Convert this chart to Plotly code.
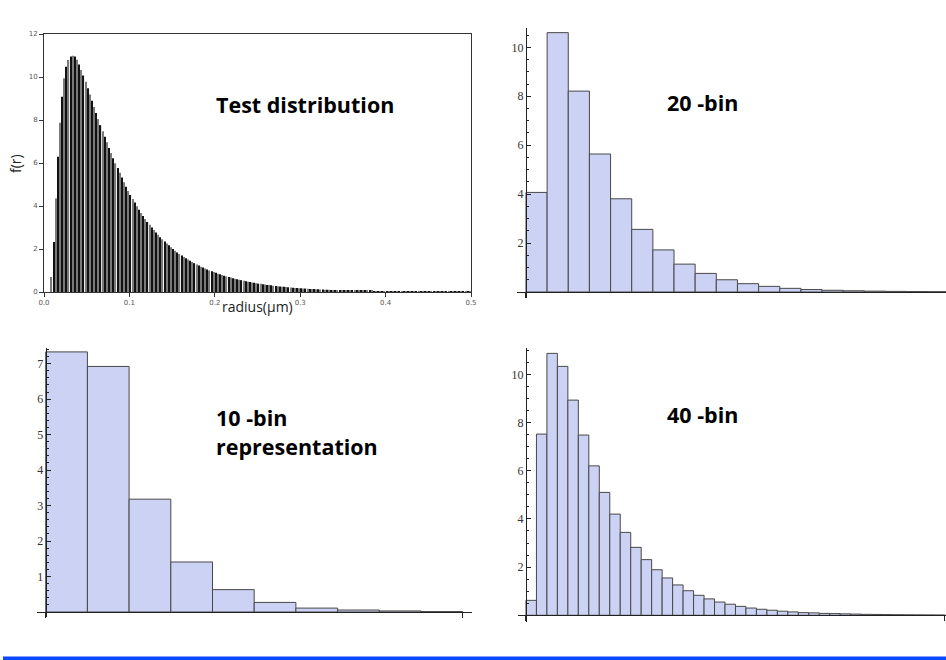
import plotly.graph_objects as go

W, H = 946, 660
R_MAX = 0.5

# ---- data ----
test_dist = [
    0, 0, 0,
    0.70, 2.33, 4.35, 6.29, 7.87, 9.08, 9.94,
    10.48, 10.79, 10.95, 10.99, 10.95, 10.80, 10.58, 10.33, 10.07, 9.78,
    9.48, 9.19, 8.90, 8.61, 8.32, 8.04, 7.76, 7.48, 7.22, 6.96,
    6.70, 6.46, 6.22, 5.99, 5.77, 5.55, 5.33, 5.11, 4.90, 4.70,
    4.51, 4.33, 4.16, 3.99, 3.83, 3.68, 3.53, 3.39, 3.26, 3.13,
    3.00, 2.88, 2.77, 2.66, 2.55, 2.45, 2.35, 2.26, 2.17, 2.08,
    2.00, 1.92, 1.84, 1.77, 1.70, 1.63, 1.57, 1.51, 1.45, 1.39,
    1.34, 1.28, 1.23, 1.18, 1.14, 1.09, 1.05, 1.00, 0.96, 0.93,
    0.89, 0.85, 0.82, 0.79, 0.76, 0.73, 0.70, 0.67, 0.64, 0.62,
    0.59, 0.57, 0.55, 0.52, 0.50, 0.48, 0.46, 0.44, 0.43, 0.41,
    0.39, 0.38, 0.36, 0.35, 0.33, 0.32, 0.31, 0.29, 0.28, 0.27,
    0.26, 0.25, 0.24, 0.23, 0.22, 0.21, 0.20, 0.19, 0.185, 0.18,
    0.17, 0.165, 0.16, 0.15, 0.145, 0.14, 0.135, 0.13, 0.125, 0.12,
    0.115, 0.11, 0.105, 0.10, 0.097, 0.094, 0.09, 0.087, 0.084, 0.081,
    0.078, 0.075, 0.072, 0.07, 0.067, 0.065, 0.062, 0.06, 0.058, 0.056,
    0.054, 0.052, 0.05, 0.048, 0.046, 0.045, 0.043, 0.042, 0.04, 0.039,
    0.037, 0.036, 0.035, 0.034, 0.033, 0.031, 0.03, 0.029, 0.028, 0.027,
    0.026, 0.025, 0.024, 0.023, 0.022, 0.021, 0.02, 0.02, 0.019, 0.018,
    0.018, 0.017, 0.016, 0.016, 0.015, 0.015, 0.014, 0.014, 0.013, 0.013,
    0.012, 0.012, 0.011, 0.011, 0.01, 0.01, 0.01, 0.009, 0.009, 0.009,
]

bins10 = [7.33, 6.92, 3.18, 1.41, 0.63, 0.27, 0.11, 0.056, 0.03, 0.012]

bins20 = [4.07, 10.60, 8.21, 5.64, 3.81, 2.56, 1.72, 1.14, 0.76, 0.50,
          0.34, 0.23, 0.15, 0.10, 0.07, 0.05, 0.035, 0.025, 0.018, 0.012]

bins40 = [0.62, 7.52, 10.87, 10.33, 8.93, 7.48, 6.20, 5.10, 4.20, 3.44,
          2.82, 2.31, 1.89, 1.55, 1.26, 1.02, 0.83, 0.68, 0.55, 0.46,
          0.37, 0.30, 0.25, 0.21, 0.17, 0.14, 0.11, 0.10, 0.08, 0.07,
          0.06, 0.05, 0.04, 0.035, 0.03, 0.025, 0.02, 0.017, 0.014, 0.011]

test_xticks = [0.0, 0.1, 0.2, 0.3, 0.4, 0.5]
test_yticks = [0, 2, 4, 6, 8, 10, 12]
labels_10 = [1, 2, 3, 4, 5, 6, 7]
labels_20 = [2, 4, 6, 8, 10]
labels_40 = [2, 4, 6, 8, 10]


def fx(px):
    return px / W


def fy(py):
    return 1 - py / H


def centers(values):
    n = len(values)
    w = R_MAX / n
    return [(i + 0.5) * w for i in range(n)], w


HIST_FILL = "rgb(203,210,244)"
HIST_LINE = "rgb(72,72,72)"

fig = go.Figure()

# Test distribution (stick bars, alternating black / grey like the reference)
xs, w = centers(test_dist)
stick_colors = ["#111111" if i % 2 == 0 else "#7a7a7a" for i in range(len(test_dist))]
fig.add_trace(go.Bar(x=xs, y=test_dist, width=w * 0.55,
                     marker=dict(color=stick_colors, line=dict(width=0)),
                     xaxis="x", yaxis="y", hoverinfo="skip"))

for vals, ax in [(bins20, "2"), (bins10, "3"), (bins40, "4")]:
    xs, w = centers(vals)
    fig.add_trace(go.Bar(x=xs, y=vals, width=w,
                         marker=dict(color=HIST_FILL,
                                     line=dict(color=HIST_LINE, width=1)),
                         xaxis="x" + ax, yaxis="y" + ax, hoverinfo="skip"))

# Igor-style framed axes (top-left)
igor_font = dict(family="DejaVu Sans", size=7, color="#555555")
xaxis1 = dict(domain=[fx(44), fx(471)], range=[0, 0.5], anchor="y",
              showline=True, mirror=True, linecolor="#333333", linewidth=1,
              ticks="outside", ticklen=4, tickcolor="#333333",
              tickvals=test_xticks, ticktext=[f"{v:.1f}" for v in test_xticks],
              tickfont=igor_font, showgrid=False, zeroline=False,
              automargin=False, fixedrange=True)
yaxis1 = dict(domain=[fy(292), fy(34)], range=[0, 12], anchor="x",
              showline=True, mirror=True, linecolor="#333333", linewidth=1,
              ticks="outside", ticklen=4, tickcolor="#333333",
              tickvals=test_yticks, tickfont=igor_font,
              showgrid=False, zeroline=False, automargin=False, fixedrange=True)


def math_axes(px_left, px_right, x_range, px_top, px_bottom, y_range,
              origin_px_x, origin_px_y, yticks, minor_step):
    tick_font = dict(family="Liberation Serif", size=12, color="#333333")
    xa = dict(domain=[fx(px_left), fx(px_right)], range=x_range,
              anchor="free", position=fy(origin_px_y),
              showline=True, linecolor="#222222", linewidth=1,
              ticks="outside", ticklen=5, tickcolor="#222222",
              tickvals=[0, 0.5], showticklabels=False,
              showgrid=False, zeroline=False, automargin=False, fixedrange=True)
    ya = dict(domain=[fy(px_bottom), fy(px_top)], range=y_range,
              anchor="free", position=fx(origin_px_x),
              showline=True, linecolor="#222222", linewidth=1,
              ticks="inside", ticklen=4, tickcolor="#222222",
              tickvals=yticks, tickfont=tick_font,
              minor=dict(ticks="inside", ticklen=2, dtick=minor_step, tick0=0,
                         tickcolor="#222222", showgrid=False),
              showgrid=False, zeroline=False, automargin=False, fixedrange=True)
    return xa, ya


xaxis2, yaxis2 = math_axes(517, 946, [-0.0106, 0.4965], 28, 297.7, [-0.233, 10.79],
                           526, 292, labels_20, 0.5)
xaxis3, yaxis3 = math_axes(36.7, 471.7, [-0.0108, 0.5108], 348, 617, [-0.141, 7.44],
                           45.7, 612, labels_10, 0.2)
xaxis4, yaxis4 = math_axes(518, 946, [-0.0095, 0.5012], 348.3, 621.7, [-0.266, 11.08],
                           526, 615.3, labels_40, 0.5)

label_font = dict(family="Open Sans", size=21.5, color="#000000")
annotations = [
    dict(text="<b>Test distribution</b>", x=fx(304.5), y=fy(105), xref="paper", yref="paper",
         showarrow=False, font=label_font, xanchor="center", yanchor="middle"),
    dict(text="<b>20 -bin</b>", x=fx(665), y=fy(102), xref="paper", yref="paper",
         showarrow=False, font=label_font, xanchor="left", yanchor="middle"),
    dict(text="<b>10 -bin</b>", x=fx(214), y=fy(417), xref="paper", yref="paper",
         showarrow=False, font=label_font, xanchor="left", yanchor="middle"),
    dict(text="<b>representation</b>", x=fx(214), y=fy(446), xref="paper", yref="paper",
         showarrow=False, font=label_font, xanchor="left", yanchor="middle"),
    dict(text="<b>40 -bin</b>", x=fx(665), y=fy(414), xref="paper", yref="paper",
         showarrow=False, font=label_font, xanchor="left", yanchor="middle"),
    dict(text="f(r)", x=fx(15), y=fy(164), xref="paper", yref="paper", textangle=-90,
         showarrow=False, font=dict(family="Open Sans", size=14, color="#222222"),
         xanchor="center", yanchor="middle"),
    dict(text="radius(μm)", x=fx(257), y=fy(307), xref="paper", yref="paper",
         showarrow=False, font=dict(family="Open Sans", size=14, color="#222222"),
         xanchor="center", yanchor="middle"),
]

shapes = [
    dict(type="rect", xref="paper", yref="paper",
         x0=fx(3), x1=fx(946), y0=fy(660), y1=fy(656.5),
         fillcolor="#0c48ff", line=dict(width=0), layer="above"),
]

fig.update_layout(
    width=W, height=H,
    margin=dict(l=0, r=0, t=0, b=0, autoexpand=False),
    paper_bgcolor="white", plot_bgcolor="white",
    showlegend=False, barmode="overlay",
    xaxis=xaxis1, yaxis=yaxis1,
    xaxis2=xaxis2, yaxis2=yaxis2,
    xaxis3=xaxis3, yaxis3=yaxis3,
    xaxis4=xaxis4, yaxis4=yaxis4,
    annotations=annotations, shapes=shapes,
)

fig.write_html(
    "out.html",
    config={"displayModeBar": False},
    post_script="document.body.style.margin='0';document.body.style.overflow='hidden';",
)
